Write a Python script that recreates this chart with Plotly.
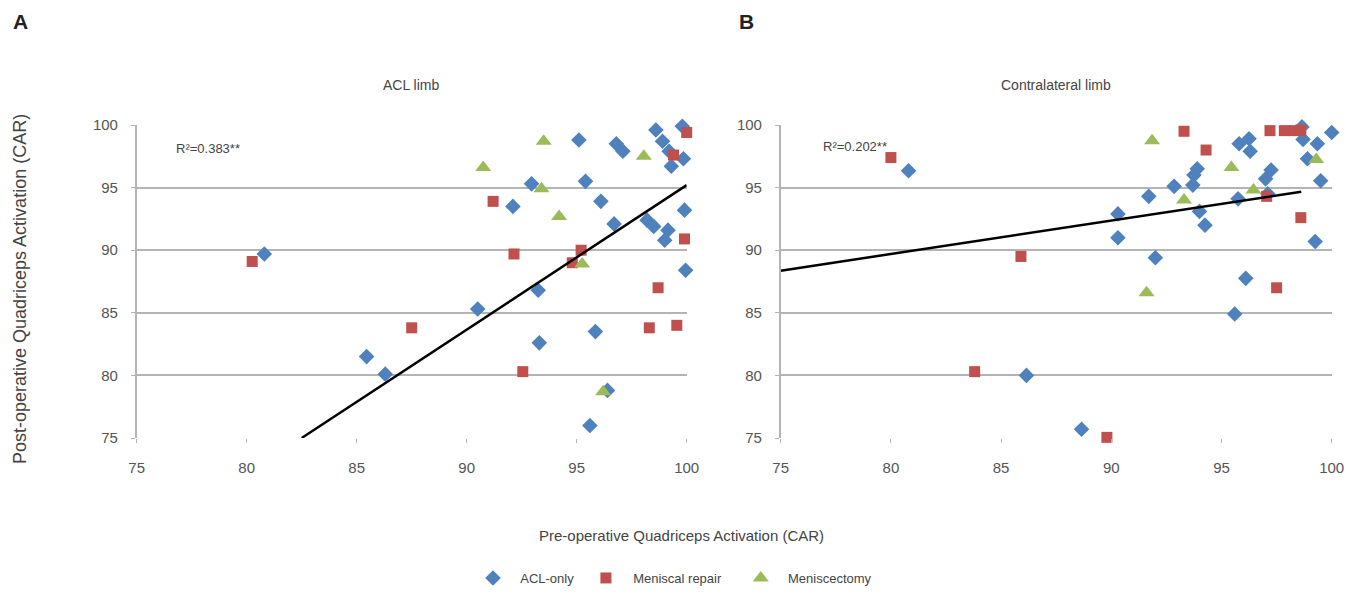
import plotly.graph_objects as go
import numpy as np

# ---------------- Data ----------------
# Panel A: ACL limb
a_acl_x = [95.1, 95.4, 96.1, 96.7, 96.8, 97.1, 98.6, 98.9, 99.2, 99.8, 99.85, 99.3, 99.9, 98.2, 98.5,
           99.15, 99.0, 99.95, 95.85, 95.6, 96.4, 93.25, 93.3, 92.95, 92.1, 90.5, 85.45, 86.3, 80.8]
a_acl_y = [98.8, 95.5, 93.9, 92.1, 98.5, 97.9, 99.6, 98.7, 97.9, 99.9, 97.3, 96.7, 93.2, 92.4, 91.9,
           91.6, 90.8, 88.4, 83.5, 76.0, 78.8, 86.8, 82.6, 95.3, 93.5, 85.3, 81.5, 80.1, 89.7]
a_rep_x = [80.25, 87.5, 91.2, 92.15, 92.55, 95.2, 94.8, 100.0, 99.4, 99.9, 98.7, 98.3, 99.55]
a_rep_y = [89.1, 83.8, 93.9, 89.7, 80.3, 90.0, 89.0, 99.4, 97.6, 90.9, 87.0, 83.8, 84.0]
a_men_x = [90.75, 93.5, 93.4, 94.2, 95.25, 98.05, 96.2]
a_men_y = [96.6, 98.7, 94.9, 92.7, 88.9, 97.5, 78.7]

# Panel B: Contralateral limb
b_acl_x = [80.8, 86.15, 88.65, 90.3, 90.3, 91.7, 92.0, 92.85, 93.7, 93.75, 93.9, 94.0, 94.25, 95.6,
           95.75, 95.8, 96.25, 96.3, 96.1, 97.0, 97.25, 97.1, 98.65, 98.7, 98.9, 99.35, 99.5, 99.25, 100.0]
b_acl_y = [96.35, 80.0, 75.7, 92.9, 91.0, 94.3, 89.4, 95.1, 95.2, 96.0, 96.5, 93.1, 92.0, 84.9,
           94.1, 98.5, 98.9, 97.9, 87.75, 95.7, 96.4, 94.5, 99.85, 98.85, 97.3, 98.5, 95.55, 90.7, 99.4]
b_rep_x = [80.0, 85.9, 83.8, 89.8, 93.3, 94.3, 97.05, 97.2, 97.85, 98.3, 98.6, 98.6, 97.5]
b_rep_y = [97.4, 89.5, 80.3, 75.05, 99.5, 98.0, 94.3, 99.55, 99.55, 99.55, 99.6, 92.6, 87.0]
b_men_x = [91.85, 91.6, 93.3, 95.45, 96.45, 99.3]
b_men_y = [98.75, 86.6, 94.0, 96.6, 94.8, 97.25]

# Linear fits (slope, intercept, x start, x end)
fit_a = (1.154, 95.2 - 1.154 * 100, 82.5, 100.0)
fit_b = (0.267, 94.67 - 0.267 * 98.62, 75.0, 98.62)
r2_a = "R²=0.383**"
r2_b = "R²=0.202**"

axis_ticks = [75, 80, 85, 90, 95, 100]
series_names = ["ACL-only", "Meniscal repair", "Meniscectomy"]

# ---------------- Styles ----------------
C_BLUE = "#4f81bd"
C_RED = "#c0504d"
C_GREEN = "#9bbb59"
FONT = "Liberation Sans, Arial, sans-serif"
GRID = "#b4b4b4"
TXT = "#555555"
NB = "\u00a0"
W, H, OFF = 1364, 597, 8

def px(x):
    return (x - OFF) / W

def py(y):
    return 1 - (y - OFF) / H

fig = go.Figure()

def legend_name(n, trail):
    return NB * 2 + n + NB * trail

def add_panel(xs, ys, xref, yref, show):
    (ax, ay), (rx, ry), (mx, my) = xs
    fig.add_trace(go.Scatter(x=ax, y=ay, mode="markers", name=legend_name(series_names[0], 2),
                             legendgroup="a", showlegend=show, xaxis=xref, yaxis=yref, cliponaxis=False,
                             marker=dict(symbol="diamond", size=12, color=C_BLUE)))
    fig.add_trace(go.Scatter(x=rx, y=ry, mode="markers", name=legend_name(series_names[1], 4),
                             legendgroup="r", showlegend=show, xaxis=xref, yaxis=yref, cliponaxis=False,
                             marker=dict(symbol="square", size=11, color=C_RED)))
    fig.add_trace(go.Scatter(x=mx, y=my, mode="markers", name=legend_name(series_names[2], 0),
                             legendgroup="m", showlegend=show, xaxis=xref, yaxis=yref, cliponaxis=False,
                             marker=dict(symbol="triangle-up", size=14, color=C_GREEN)))
    s, b, x0, x1 = ys
    lx = np.array([x0, x1])
    fig.add_trace(go.Scatter(x=lx, y=s * lx + b, mode="lines", showlegend=False,
                             xaxis=xref, yaxis=yref, line=dict(color="black", width=2.5),
                             hoverinfo="skip"))

add_panel(((a_acl_x, a_acl_y), (a_rep_x, a_rep_y), (a_men_x, a_men_y)), fit_a, "x", "y", True)
add_panel(((b_acl_x, b_acl_y), (b_rep_x, b_rep_y), (b_men_x, b_men_y)), fit_b, "x2", "y2", False)

xax = dict(range=[75, 100], tickvals=axis_ticks, showgrid=False, zeroline=False,
           showline=False, ticks="outside", ticklen=4, tickcolor=GRID, ticklabelstandoff=12,
           tickfont=dict(family=FONT, size=15, color=TXT))
yax = dict(range=[75, 100], tickvals=axis_ticks, showgrid=True, gridcolor=GRID, gridwidth=1.5,
           zeroline=False, showline=True, linecolor=GRID, linewidth=1.5,
           ticks="outside", ticklen=4, tickcolor=GRID, ticklabelstandoff=10,
           tickfont=dict(family=FONT, size=15, color=TXT))

ydom = [py(438), py(125)]
fig.update_layout(
    width=W, height=H,
    margin=dict(l=0, r=0, t=0, b=0, autoexpand=False),
    plot_bgcolor="white", paper_bgcolor="white",
    font=dict(family=FONT, color=TXT),
    xaxis=dict(xax, domain=[px(136.7), px(686.7)], anchor="y"),
    yaxis=dict(yax, domain=ydom, anchor="x"),
    xaxis2=dict(xax, domain=[px(780.7), px(1331.7)], anchor="y2"),
    yaxis2=dict(yax, domain=ydom, anchor="x2"),
    showlegend=True,
    legend=dict(orientation="h", x=px(675), xanchor="center", y=py(578), yanchor="middle",
                font=dict(family=FONT, size=13, color="#444"),
                bgcolor="rgba(0,0,0,0)"),
)

ann = [
    dict(text="<b>A</b>", x=px(11), y=py(22), xanchor="left", font=dict(size=21, color="#222")),
    dict(text="<b>B</b>", x=px(737), y=py(22), xanchor="left", font=dict(size=21, color="#222")),
    dict(text="ACL limb", x=px(411), y=py(85), xanchor="center", font=dict(size=14, color="#444")),
    dict(text="Contralateral limb", x=px(1056), y=py(85), xanchor="center", font=dict(size=14, color="#444")),
    dict(text=r2_a, x=px(174), y=py(148), xanchor="left", font=dict(size=13, color="#444")),
    dict(text=r2_b, x=px(821), y=py(147), xanchor="left", font=dict(size=13, color="#444")),
    dict(text="Pre-operative Quadriceps Activation (CAR)", x=px(681), y=py(535),
         xanchor="center", font=dict(size=15, color="#444")),
    dict(text="Post-operative Quadriceps Activation (CAR)", x=px(20), y=py(289),
         xanchor="center", textangle=-90, font=dict(size=18, color="#444")),
]
for a in ann:
    a.update(xref="paper", yref="paper", yanchor="middle", showarrow=False)
    a["font"]["family"] = FONT
    fig.add_annotation(**a)

fig.write_html("out.html")
